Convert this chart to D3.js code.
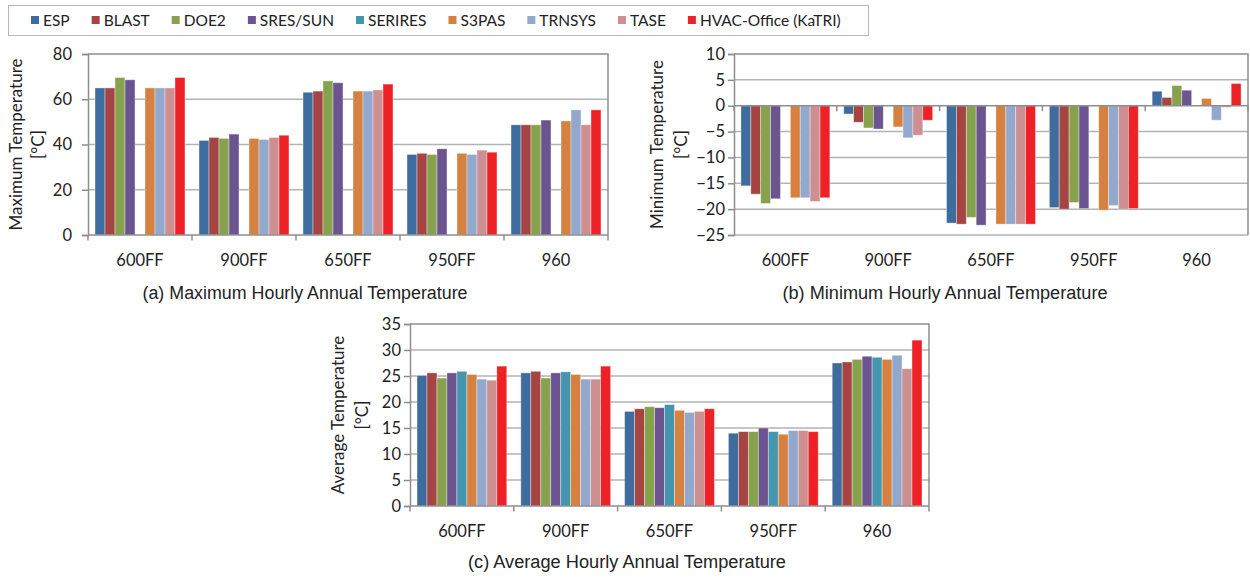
<!DOCTYPE html>
<html><head><meta charset="utf-8">
<script src="https://cdn.jsdelivr.net/npm/d3@7"></script>
<style>
body{margin:0;background:#fff}
svg{display:block}
.tick-label,.cat-label,.axis-title,.legend-text{font-family:Lato,"Noto Sans",sans-serif;fill:#222}
</style></head><body>
<svg id="fig" width="1250" height="578"></svg>
<script>
const categories = ["600FF", "900FF", "650FF", "950FF", "960"];
const programs = ["ESP", "BLAST", "DOE2", "SRES/SUN", "SERIRES", "S3PAS", "TRNSYS", "TASE", "HVAC-Office (KaTRI)"];
const programColors = ["#3e6c9e", "#a54442", "#86a24d", "#6c5490", "#4396ad", "#d6813f", "#93a8cd", "#cd8f8f", "#ee2226"];

// one row per case, values in program order (null = no result reported)
const maxTemp = [
  [65.0, 65.0, 69.6, 68.6, null, 65.0, 65.0, 65.0, 69.6],
  [41.8, 43.1, 42.7, 44.6, null, 42.7, 42.2, 43.1, 44.1],
  [63.1, 63.6, 68.1, 67.3, null, 63.6, 63.6, 64.1, 66.7],
  [35.6, 36.1, 35.6, 38.1, null, 36.1, 35.6, 37.5, 36.6],
  [48.7, 48.7, 48.7, 50.8, null, 50.4, 55.3, 48.7, 55.3]
];
const minTemp = [
  [-15.5, -17.1, -18.9, -18.0, null, -17.8, -17.8, -18.5, -17.8],
  [-1.6, -3.2, -4.3, -4.5, null, -4.1, -6.2, -5.7, -2.8],
  [-22.7, -22.9, -21.6, -23.1, null, -22.9, -22.9, -22.9, -22.9],
  [-19.7, -20.0, -18.7, -19.9, null, -20.2, -19.3, -20.0, -19.9],
  [2.8, 1.6, 3.9, 3.0, null, 1.4, -2.8, -0.3, 4.3]
];
const avgTemp = [
  [25.1, 25.6, 24.6, 25.6, 25.9, 25.3, 24.4, 24.2, 26.9],
  [25.6, 25.9, 24.6, 25.6, 25.8, 25.3, 24.4, 24.4, 26.9],
  [18.2, 18.7, 19.1, 18.9, 19.5, 18.4, 18.0, 18.2, 18.7],
  [14.0, 14.3, 14.3, 15.0, 14.3, 13.8, 14.5, 14.5, 14.3],
  [27.5, 27.7, 28.2, 28.8, 28.6, 28.2, 29.0, 26.4, 31.9]
];
const maxTicks = [0, 20, 40, 60, 80];
const minTicks = [-25, -20, -15, -10, -5, 0, 5, 10];
const avgTicks = [0, 5, 10, 15, 20, 25, 30, 35];

const svg = d3.select("#fig");
const color = d3.scaleOrdinal().domain(programs).range(programColors);

function drawPanel(p) {
  const g = svg.append("g");
  const x = d3.scaleBand().domain(categories).range([p.left, p.right])
    .paddingInner(0.135).paddingOuter(0.0675);
  const xs = d3.scaleBand().domain(programs).range([0, x.bandwidth()]);
  const y = d3.scaleLinear().domain(d3.extent(p.ticks)).range([p.bottom, p.top]);
  const top = d3.max(p.ticks);

  // horizontal gridlines (the top one is the plot frame)
  g.selectAll("line.grid").data(p.ticks.filter(t => t !== top && t !== 0))
    .join("line").attr("class", "grid")
    .attr("x1", p.left).attr("x2", p.right)
    .attr("y1", d => y(d)).attr("y2", d => y(d))
    .attr("stroke", "#b3b3b3").attr("stroke-width", 1.5);

  // frame: top and right
  g.append("path")
    .attr("d", `M${p.left},${y(top)}H${p.right}V${p.bottom}`)
    .attr("fill", "none").attr("stroke", "#8e8e8e").attr("stroke-width", 1.5);

  // bars
  const groups = g.selectAll("g.cat").data(categories).join("g")
    .attr("transform", c => `translate(${x(c)},0)`);
  groups.selectAll("rect")
    .data((c, i) => programs.map((s, j) => ({ s, v: p.data[i][j] })).filter(d => d.v !== null))
    .join("rect")
    .attr("x", d => xs(d.s))
    .attr("width", xs.bandwidth())
    .attr("y", d => y(Math.max(0, d.v)))
    .attr("height", d => Math.abs(y(d.v) - y(0)))
    .attr("fill", d => color(d.s))
    .attr("stroke", "rgba(255,255,255,0.45)").attr("stroke-width", 0.8);

  // y axis
  const yAxis = d3.axisLeft(y).tickValues(p.ticks).tickSize(6).tickPadding(p.tickPad);
  const ya = g.append("g").attr("transform", `translate(${p.left},0)`).call(yAxis);
  ya.select(".domain").attr("stroke", "#8e8e8e").attr("stroke-width", 1.5);
  ya.selectAll(".tick line").attr("stroke", "#8e8e8e").attr("stroke-width", 1.5);
  ya.selectAll(".tick text").attr("class", "tick-label").attr("fill", null)
    .style("font-size", "16.5px");

  // category axis on the zero line, with boundary ticks
  const y0 = y(0);
  g.append("line").attr("x1", p.left).attr("x2", p.right).attr("y1", y0).attr("y2", y0)
    .attr("stroke", "#8e8e8e").attr("stroke-width", 1.5);
  const bounds = d3.range(categories.length + 1).map(i => p.left + i * x.step());
  g.selectAll("line.ctick").data(bounds).join("line").attr("class", "ctick")
    .attr("x1", d => d).attr("x2", d => d).attr("y1", y0).attr("y2", y0 + 5.5)
    .attr("stroke", "#8e8e8e").attr("stroke-width", 1.5);
  g.selectAll("text.cat-label").data(categories).join("text").attr("class", "cat-label")
    .attr("x", c => x(c) + x.bandwidth() / 2).attr("y", p.bottom + 31)
    .attr("text-anchor", "middle").style("font-size", "16.5px").text(c => c);

  // rotated y title, two lines
  const cy = (p.top + p.bottom) / 2;
  [[p.titleX1, p.yTitle], [p.titleX2, "[°C]"]].forEach(([tx, t]) => {
    g.append("text").attr("class", "axis-title")
      .attr("transform", `translate(${tx},${cy}) rotate(-90)`)
      .attr("text-anchor", "middle").attr("dy", "0.36em")
      .style("font-size", "17px").text(t);
  });

  // caption
  g.append("text")
    .attr("x", p.capX).attr("y", p.capY).attr("text-anchor", "middle")
    .attr("font-family", "'Liberation Sans', Arial, sans-serif")
    .attr("font-size", 18).attr("fill", "#222")
    .attr("textLength", p.capW).attr("lengthAdjust", "spacingAndGlyphs")
    .text(p.caption);
}

drawPanel({ left: 88, right: 608, top: 54, bottom: 235, data: maxTemp, ticks: maxTicks, tickPad: 10,
  yTitle: "Maximum Temperature", titleX1: 16, titleX2: 38,
  caption: "(a) Maximum Hourly Annual Temperature", capX: 305, capY: 299, capW: 325 });
drawPanel({ left: 734, right: 1248, top: 54, bottom: 235, data: minTemp, ticks: minTicks, tickPad: 3,
  yTitle: "Minimum Temperature", titleX1: 657, titleX2: 681,
  caption: "(b) Minimum Hourly Annual Temperature", capX: 945, capY: 299, capW: 325 });
drawPanel({ left: 410, right: 929, top: 324, bottom: 506, data: avgTemp, ticks: avgTicks, tickPad: 3,
  yTitle: "Average Temperature", titleX1: 338, titleX2: 362,
  caption: "(c) Average Hourly Annual Temperature", capX: 627, capY: 568, capW: 318 });

// legend
const legend = svg.append("g");
legend.append("rect").attr("x", 8.5).attr("y", 5.5).attr("width", 860).attr("height", 30)
  .attr("fill", "#fff").attr("stroke", "#b8b8b8").attr("stroke-width", 1);
let lx = 31;
programs.forEach(s => {
  const item = legend.append("g").attr("transform", `translate(${lx},0)`);
  item.append("rect").attr("x", 0).attr("y", 16).attr("width", 8).attr("height", 8).attr("fill", color(s));
  const t = item.append("text").attr("class", "legend-text").attr("x", 12).attr("y", 25.5)
    .style("font-size", "15.5px").text(s);
  lx += 12 + t.node().getComputedTextLength() + 22;
});
</script>
</body></html>
